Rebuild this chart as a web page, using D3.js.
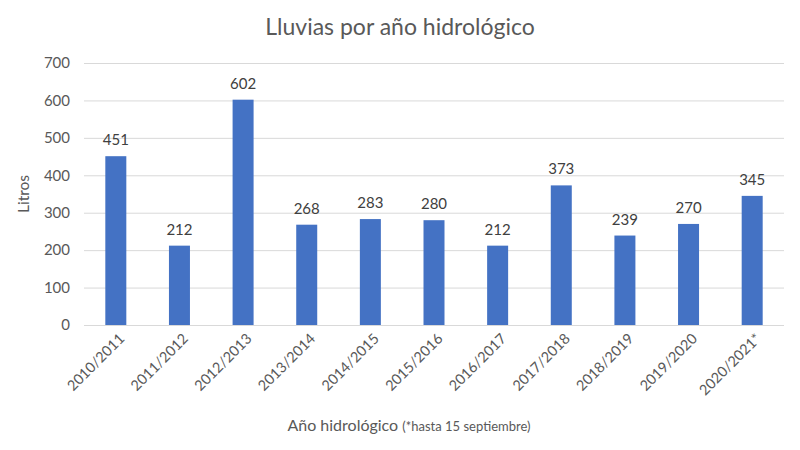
<!DOCTYPE html>
<html><head><meta charset="utf-8">
<script src="https://cdn.jsdelivr.net/npm/d3@7"></script>
<style>body{margin:0;background:#fff}svg{display:block;font-family:Lato,"Open Sans",sans-serif}</style>
</head><body><svg id="c" width="800" height="450"></svg>
<script>
const categories = ["2010/2011","2011/2012","2012/2013","2013/2014","2014/2015","2015/2016","2016/2017","2017/2018","2018/2019","2019/2020","2020/2021*"];
const values = [451,212,602,268,283,280,212,373,239,270,345];
const yTicks = [0,100,200,300,400,500,600,700];

const svg = d3.select("#c");
const x = d3.scaleBand().domain(categories).range([84,784]).paddingInner(0.67).paddingOuter(0.335);
const y = d3.scaleLinear().domain([0,700]).range([325,63]);

svg.append("text").attr("x",400).attr("y",35).attr("text-anchor","middle")
  .attr("font-size",23).attr("fill","#595959").text("Lluvias por año hidrológico");

const g = svg.append("g");
g.selectAll("line.grid").data(yTicks).join("line").attr("class","grid")
  .attr("x1",84).attr("x2",784).attr("y1",d=>y(d)+0.5).attr("y2",d=>y(d)+0.5)
  .attr("stroke","#d9d9d9").attr("stroke-width",1);
g.selectAll("text.yt").data(yTicks).join("text").attr("class","yt")
  .attr("x",70).attr("y",d=>y(d)).attr("dy","0.35em").attr("text-anchor","end")
  .attr("font-size",15).attr("fill","#595959").text(d=>d);

g.selectAll("rect").data(values).join("rect")
  .attr("x",(d,i)=>x(categories[i])).attr("width",x.bandwidth())
  .attr("y",d=>y(d)).attr("height",d=>y(0)-y(d)).attr("fill","#4472C4");

g.selectAll("text.lbl").data(values).join("text").attr("class","lbl")
  .attr("x",(d,i)=>x(categories[i])+x.bandwidth()/2).attr("y",d=>y(d)-11)
  .attr("text-anchor","middle").attr("font-size",15).attr("fill","#404040").text(d=>d);

g.selectAll("text.xt").data(categories).join("text").attr("class","xt")
  .attr("transform",d=>`translate(${x(d)+x.bandwidth()/2+6},${336}) rotate(-45)`)
  .attr("text-anchor","end").attr("dy","0.35em")
  .attr("font-size",14.5).attr("fill","#595959").text(d=>d);

svg.append("text").attr("transform","translate(29,194) rotate(-90)").attr("text-anchor","middle")
  .attr("font-size",15.5).attr("fill","#595959").text("Litros");

const xt = svg.append("text").attr("x",409).attr("y",431).attr("text-anchor","middle").attr("fill","#595959");
xt.append("tspan").attr("font-size",16).text("Año hidrológico ");
xt.append("tspan").attr("font-size",13).text("(*hasta 15 septiembre)");
</script></body></html>
